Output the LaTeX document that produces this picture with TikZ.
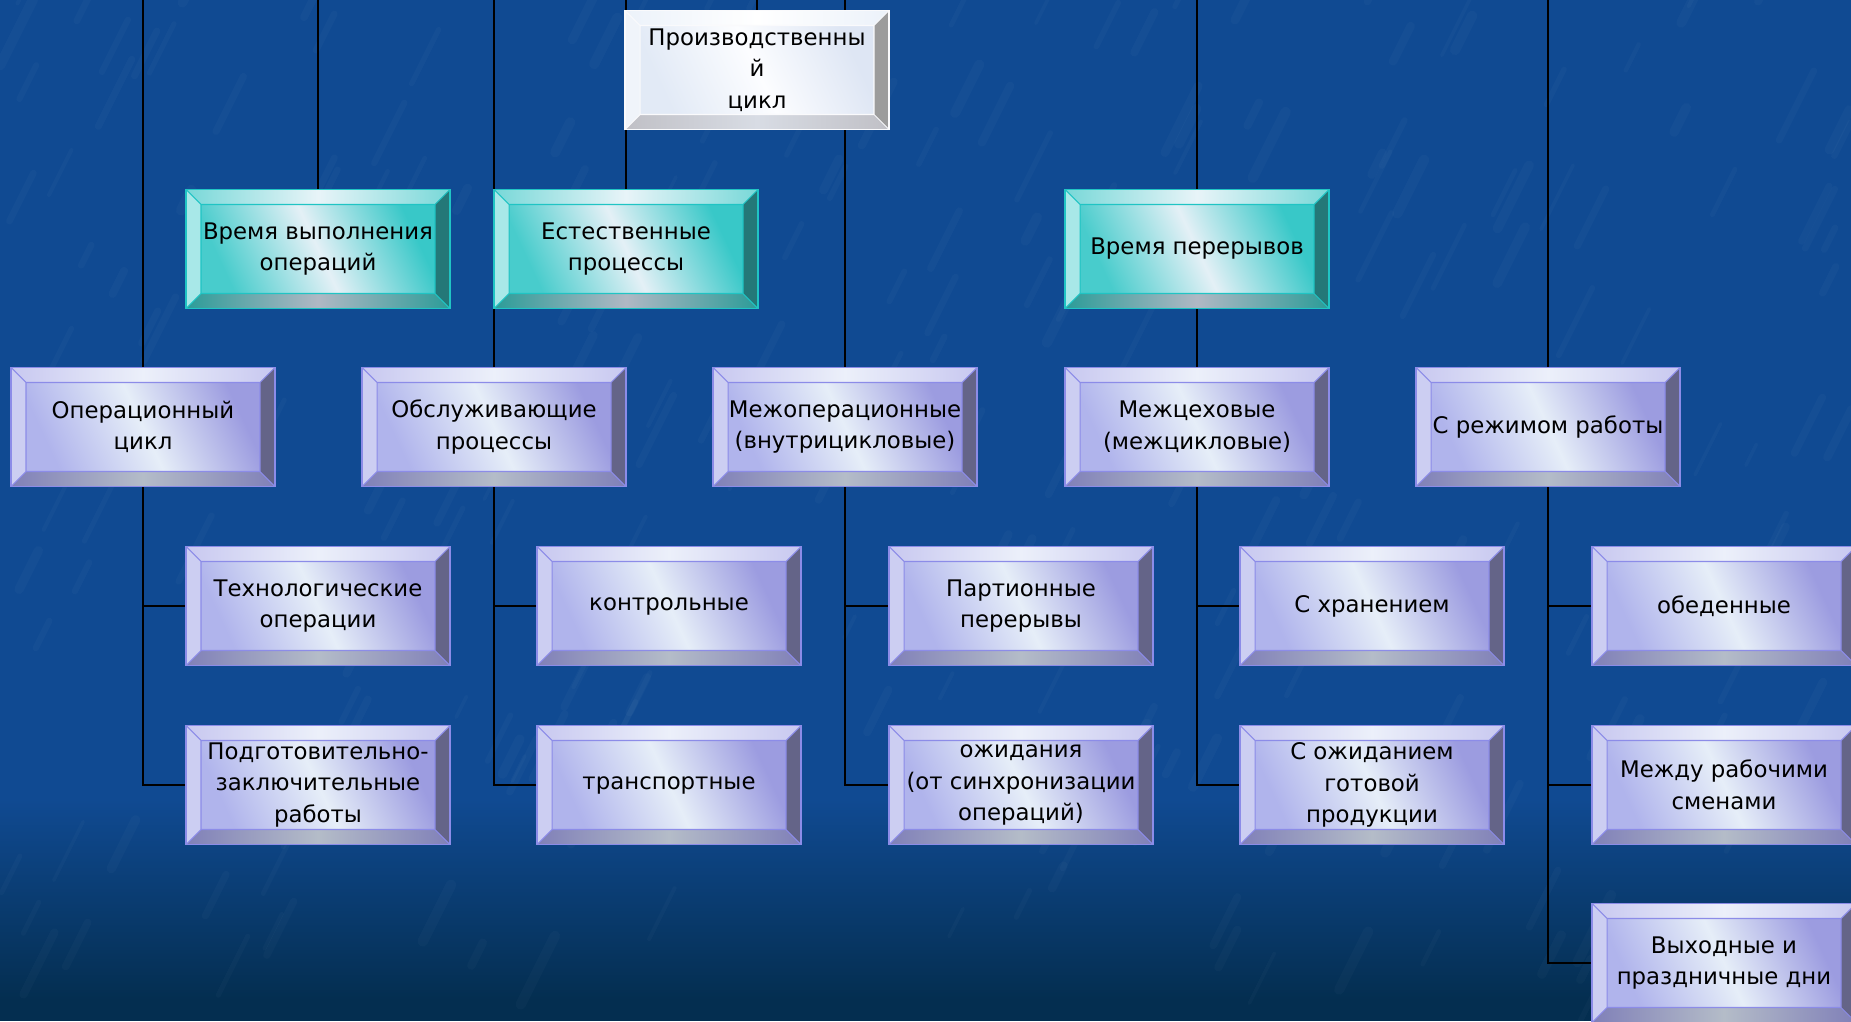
\documentclass[tikz,border=0pt]{standalone}
\usepackage{fontspec}
\setmainfont{DejaVu Sans}
\pgfdeclarelayer{background}
\pgfsetlayers{background,main}
\definecolor{sky}{RGB}{16,74,146}
\definecolor{skydark}{RGB}{4,46,80}
\definecolor{lavline}{RGB}{140,140,232}
\definecolor{lavtop}{RGB}{200,200,240}
\definecolor{lavhi}{RGB}{236,240,250}
\definecolor{lavleft}{RGB}{204,206,242}
\definecolor{lavright}{RGB}{100,100,136}
\definecolor{lavbot}{RGB}{128,128,184}
\definecolor{lavbothi}{RGB}{180,188,200}
\definecolor{lavfa}{RGB}{176,180,236}
\definecolor{lavfm}{RGB}{230,238,248}
\definecolor{lavfb}{RGB}{156,156,224}
\definecolor{tealline}{RGB}{32,196,196}
\definecolor{tealtop}{RGB}{120,216,216}
\definecolor{tealhi}{RGB}{232,244,248}
\definecolor{tealleft}{RGB}{168,232,232}
\definecolor{tealright}{RGB}{36,120,120}
\definecolor{tealbot}{RGB}{44,156,152}
\definecolor{tealbothi}{RGB}{176,184,196}
\definecolor{tealfa}{RGB}{72,204,204}
\definecolor{tealfm}{RGB}{228,240,246}
\definecolor{tealfb}{RGB}{56,200,200}
\definecolor{whline}{RGB}{250,250,252}
\definecolor{whtop}{RGB}{236,242,250}
\definecolor{whhi}{RGB}{255,255,255}
\definecolor{whleft}{RGB}{240,244,250}
\definecolor{whright}{RGB}{156,156,156}
\definecolor{whbot}{RGB}{192,192,198}
\definecolor{whbothi}{RGB}{216,220,228}
\definecolor{whfa}{RGB}{226,234,246}
\definecolor{whfm}{RGB}{252,253,255}
\definecolor{whfb}{RGB}{222,230,244}
\newcommand{\bevd}{0.3cm}
\newcommand{\boxfont}{\fontsize{13}{18}\selectfont}
\tikzset{%
  bev line/.store in=\bevline, bev top/.store in=\bevtop,
  bev hi/.store in=\bevhi, bev left/.store in=\bevleft,
  bev right/.store in=\bevright, bev bot/.store in=\bevbot,
  bev bothi/.store in=\bevbothi, bev fa/.store in=\bevfa,
  bev fm/.store in=\bevfm, bev fb/.store in=\bevfb,
  bevbox/.style = {rectangle, draw=\bevline, line width=1pt,
        minimum width=5.28cm, minimum height=2.38cm, inner sep=0pt,
        align=center, font=\boxfont, text=black,
        path picture={
          \coordinate (nw) at (path picture bounding box.north west);
          \coordinate (ne) at (path picture bounding box.north east);
          \coordinate (sw) at (path picture bounding box.south west);
          \coordinate (se) at (path picture bounding box.south east);
          \coordinate (inw) at ([xshift=\bevd,yshift=-\bevd]nw);
          \coordinate (ine) at ([xshift=-\bevd,yshift=-\bevd]ne);
          \coordinate (isw) at ([xshift=\bevd,yshift=\bevd]sw);
          \coordinate (ise) at ([xshift=-\bevd,yshift=\bevd]se);
          \shade[left color=\bevtop,right color=\bevtop,middle color=\bevhi]
            (nw) -- (ne) -- (ine) -- (inw) -- cycle;
          \fill[\bevleft] (nw) -- (inw) -- (isw) -- (sw) -- cycle;
          \fill[\bevright] (ne) -- (ine) -- (ise) -- (se) -- cycle;
          \shade[left color=\bevbot,right color=\bevbot,middle color=\bevbothi]
            (sw) -- (isw) -- (ise) -- (se) -- cycle;
          \shade[left color=\bevfa,right color=\bevfb,middle color=\bevfm,
            shading angle=115] (inw) rectangle (ise);
          \draw[\bevline,line width=0.6pt] (inw) rectangle (ise)
            (nw) -- (inw) (ne) -- (ine) (sw) -- (isw) (se) -- (ise);
        }},
  lav/.style = {bev line=lavline, bev top=lavtop, bev hi=lavhi,
        bev left=lavleft, bev right=lavright, bev bot=lavbot,
        bev bothi=lavbothi, bev fa=lavfa, bev fm=lavfm, bev fb=lavfb, bevbox},
  turq/.style = {bev line=tealline, bev top=tealtop, bev hi=tealhi,
        bev left=tealleft, bev right=tealright, bev bot=tealbot,
        bev bothi=tealbothi, bev fa=tealfa, bev fm=tealfm, bev fb=tealfb, bevbox},
  wh/.style = {bev line=whline, bev top=whtop, bev hi=whhi,
        bev left=whleft, bev right=whright, bev bot=whbot,
        bev bothi=whbothi, bev fa=whfa, bev fm=whfm, bev fb=whfb, bevbox},
  link/.style = {draw=black, line width=1.1pt},
  streak/.style = {draw=white, opacity=0.025, line cap=round}
}
\begin{document}
\begin{tikzpicture}[x=0.02cm, y=-0.02cm]
  \useasboundingbox (0,0) rectangle (1851,1021);
  \node[wh] (prod) at (757,70) {Производственны\\й\\цикл};
  \node[turq] (vvo) at (318,249) {Время выполнения\\операций};
  \node[turq] (est) at (626,249) {Естественные\\процессы};
  \node[turq] (vp) at (1197,249) {Время перерывов};
  \node[lav] (opc) at (143,427) {Операционный\\цикл};
  \node[lav] (obs) at (494,427) {Обслуживающие\\процессы};
  \node[lav] (mop) at (845,427) {Межоперационные\\(внутрицикловые)};
  \node[lav] (mc) at (1197,427) {Межцеховые\\(межцикловые)};
  \node[lav] (rr) at (1548,427) {С режимом работы};
  \node[lav] (tech) at (318,606) {Технологические\\операции};
  \node[lav] (kontr) at (669,606) {контрольные};
  \node[lav] (part) at (1021,606) {Партионные\\перерывы};
  \node[lav] (hran) at (1372,606) {С хранением};
  \node[lav] (obed) at (1724,606) {обеденные};
  \node[lav] (podg) at (318,785) {Подготовительно-\\заключительные\\работы};
  \node[lav] (trans) at (669,785) {транспортные};
  \node[lav] (ozh) at (1021,785) {ожидания\\(от синхронизации\\операций)};
  \node[lav] (gotov) at (1372,785) {С ожиданием\\готовой\\продукции};
  \node[lav] (smen) at (1724,785) {Между рабочими\\сменами};
  \node[lav] (vyh) at (1724,963) {Выходные и\\праздничные дни};
  \foreach \n/\x in {t1/143,t2/318,t3/494,t4/626,t5/757,t6/845,t7/1197,t8/1548}
    \coordinate (\n) at (\x,0);
  \begin{pgfonlayer}{background}
    \fill[sky] (0,0) rectangle (1851,800);
    \shade[top color=sky, bottom color=skydark] (0,799) rectangle (1851,1000);
    \fill[skydark] (0,999) rectangle (1851,1021);
    % texture of the backdrop
    \pgfmathsetseed{11}
    \foreach \i in {1,...,260} {
      \pgfmathsetmacro{\sx}{rnd*1851}
      \pgfmathsetmacro{\sy}{rnd*1021}
      \pgfmathsetmacro{\sl}{20+rnd*50}
      \pgfmathsetmacro{\sw}{2+rnd*4}
      \draw[streak, line width=\sw pt] (\sx,\sy) -- ++(0.5*\sl,-\sl);
    }
    \draw[link] (t1) -- (opc.north);
    \draw[link] (t2) -- (vvo.north);
    \draw[link] (t3) -- (obs.north);
    \draw[link] (t4) -- (est.north);
    \draw[link] (t5) -- (prod.north);
    \draw[link] (t6) -- (mop.north);
    \draw[link] (t7) -- (vp.north);
    \draw[link] (vp.south) -- (mc.north);
    \draw[link] (t8) -- (rr.north);
    \foreach \a/\b in {opc/tech,opc/podg,obs/kontr,obs/trans,mop/part,mop/ozh,
        mc/hran,mc/gotov,rr/obed,rr/smen,rr/vyh}
      \draw[link] (\a.south) |- (\b.west);
  \end{pgfonlayer}
\end{tikzpicture}
\end{document}
